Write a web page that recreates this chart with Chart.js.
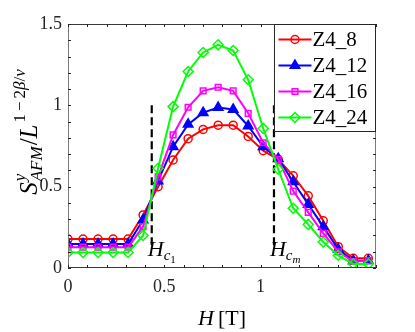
<!DOCTYPE html>
<html>
<head>
<meta charset="utf-8">
<script src="https://cdn.jsdelivr.net/npm/chart.js@4.4.1/dist/chart.umd.min.js"></script>
<style>
  html, body { margin: 0; padding: 0; background: #ffffff; }
  #wrap { width: 415px; height: 332px; position: relative; }
</style>
</head>
<body>
<div id="wrap"><canvas id="c" width="415" height="332"></canvas></div>
<script>
// ---------- data ----------
const H = [0, 0.078, 0.156, 0.234, 0.312, 0.39, 0.468, 0.546, 0.624, 0.702, 0.78,
           0.858, 0.936, 1.014, 1.092, 1.17, 1.248, 1.326, 1.404, 1.482, 1.56];
const seriesNames = ['Z4_8', 'Z4_12', 'Z4_16', 'Z4_24'];
const z4_8  = [0.178, 0.178, 0.178, 0.178, 0.178, 0.326, 0.50, 0.664, 0.795, 0.852, 0.878,
               0.878, 0.809, 0.721, 0.668, 0.567, 0.444, 0.29, 0.131, 0.06, 0.06];
const z4_12 = [0.148, 0.148, 0.148, 0.148, 0.148, 0.295, 0.535, 0.746, 0.883, 0.955, 0.986,
               0.975, 0.873, 0.746, 0.672, 0.53, 0.391, 0.254, 0.115, 0.045, 0.045];
const z4_16 = [0.128, 0.128, 0.128, 0.128, 0.128, 0.254, 0.56, 0.818, 0.988, 1.089, 1.111,
               1.089, 0.951, 0.77, 0.668, 0.473, 0.342, 0.213, 0.10, 0.04, 0.045];
const z4_24 = [0.095, 0.095, 0.095, 0.095, 0.095, 0.20, 0.613, 0.992, 1.208, 1.325, 1.372,
               1.337, 1.157, 0.858, 0.607, 0.367, 0.268, 0.16, 0.078, 0.025, 0.025];
const xTickValues = [0, 0.5, 1, 1.5];
const xTickLabels = ['0', '0.5', '1', '1.5'];
const yTickValues = [0, 0.5, 1, 1.5];
const yTickLabels = ['0', '0.5', '1', '1.5'];
const critFields = [0.435, 1.07];
const critLabels = ['1', 'm'];
const critLineSpan = [0.14, 1.0];

// ---------- styles ----------
const colors = ['#ff0000', '#0000ff', '#ff00ff', '#00ff00'];
const styles = ['circle', 'triangle', 'rect', 'rectRot'];
const radii = [4, 5.5, 4, 5];
const fills = ['rgba(0,0,0,0)', '#0000ff', 'rgba(0,0,0,0)', 'rgba(0,0,0,0)'];
const SERIF = '"Liberation Serif", "DejaVu Serif", serif';
const AX = '#262626';

const allSeries = [z4_8, z4_12, z4_16, z4_24];
const datasets = allSeries.map((s, k) => ({
  label: seriesNames[k],
  data: H.map((h, i) => ({ x: h, y: s[i] })),
  borderColor: colors[k],
  backgroundColor: fills[k],
  pointBorderColor: colors[k],
  pointBackgroundColor: fills[k],
  pointStyle: styles[k],
  pointRadius: radii[k],
  pointBorderWidth: 1.5,
  borderWidth: 2,
  order: 3 - k,
  tension: 0
}));

function near(v, arr) { return arr.findIndex(a => Math.abs(a - v) < 1e-6); }

// draw a sequence of text runs; each run {t, f (font), dy, sp}
function runs(ctx, list, x0, y0, measureOnly) {
  let x = x0;
  for (const r of list) {
    if (r.stack) {
      let w = 0;
      for (const s of r.stack) {
        ctx.font = s.f;
        const ww = ctx.measureText(s.t).width;
        if (!measureOnly) ctx.fillText(s.t, x, y0 + s.dy);
        w = Math.max(w, ww);
      }
      x += w + (r.sp || 0);
    } else {
      ctx.font = r.f;
      if (!measureOnly) ctx.fillText(r.t, x, y0 + (r.dy || 0));
      x += ctx.measureText(r.t).width + (r.sp || 0);
    }
  }
  return x - x0;
}

const decor = {
  id: 'decor',
  beforeDatasetsDraw(chart) {
    const { ctx, scales: { x, y } } = chart;
    ctx.save();
    ctx.strokeStyle = '#000000';
    ctx.lineWidth = 2.2;
    ctx.setLineDash([8, 4]);
    critFields.forEach(v => {
      const px = x.getPixelForValue(v);
      ctx.beginPath();
      ctx.moveTo(px, y.getPixelForValue(critLineSpan[1]));
      ctx.lineTo(px, y.getPixelForValue(critLineSpan[0]));
      ctx.stroke();
    });
    ctx.restore();
  },
  afterDraw(chart) {
    const { ctx, chartArea: a, scales: { x, y } } = chart;
    ctx.save();
    // H_c labels
    ctx.fillStyle = '#000';
    ctx.textBaseline = 'alphabetic';
    critFields.forEach((v, k) => {
      const px = x.getPixelForValue(v) - 4;
      const py = 256;
      ctx.font = 'italic 22px ' + SERIF;
      ctx.fillText('H', px, py);
      const w = ctx.measureText('H').width;
      ctx.font = 'italic 15px ' + SERIF;
      ctx.fillText('c', px + w, py + 4);
      const w2 = ctx.measureText('c').width;
      ctx.font = (k === 0 ? '' : 'italic ') + '11px ' + SERIF;
      ctx.fillText(critLabels[k], px + w + w2, py + 7);
    });

    // box
    ctx.lineWidth = 1;
    ctx.strokeStyle = '#7a7a7a';
    ctx.beginPath();
    ctx.moveTo(a.left + 0.5, a.top); ctx.lineTo(a.left + 0.5, a.bottom);
    ctx.moveTo(a.right - 0.5, a.top); ctx.lineTo(a.right - 0.5, a.bottom);
    ctx.stroke();
    ctx.strokeStyle = '#3a3a3a';
    ctx.beginPath();
    ctx.moveTo(a.left, a.top + 0.5); ctx.lineTo(a.right, a.top + 0.5);
    ctx.moveTo(a.left, a.bottom - 0.5); ctx.lineTo(a.right, a.bottom - 0.5);
    ctx.stroke();
    // inward ticks
    ctx.strokeStyle = AX;
    ctx.beginPath();
    for (let v = 0; v <= 1.6001; v += 0.1) {
      const px = Math.round(x.getPixelForValue(v)) + 0.5;
      ctx.moveTo(px, a.bottom); ctx.lineTo(px, a.bottom - 3);
      ctx.moveTo(px, a.top); ctx.lineTo(px, a.top + 3);
    }
    for (let v = 0; v <= 1.5001; v += 0.1) {
      const py = Math.round(y.getPixelForValue(v)) + 0.5;
      ctx.moveTo(a.left, py); ctx.lineTo(a.left + 3, py);
      ctx.moveTo(a.right, py); ctx.lineTo(a.right - 3, py);
    }
    ctx.stroke();

    // legend
    const lx = x.getPixelForValue(1.07) + 0.5, ly = a.top + 0.5;
    const lw = a.right - 0.5 - lx, lh = 107;
    ctx.fillStyle = '#ffffff';
    ctx.fillRect(lx, ly, lw, lh);
    ctx.strokeStyle = '#262626';
    ctx.lineWidth = 1;
    ctx.strokeRect(lx, ly, lw, lh);
    chart.data.datasets.forEach((ds, k) => {
      const cy = ly + 15 + k * 26;
      ctx.strokeStyle = ds.borderColor;
      ctx.lineWidth = 2;
      ctx.beginPath(); ctx.moveTo(lx + 4, cy); ctx.lineTo(lx + 37, cy); ctx.stroke();
      ctx.fillStyle = ds.pointBackgroundColor;
      ctx.strokeStyle = ds.borderColor;
      ctx.lineWidth = 1.5;
      Chart.helpers.drawPoint(ctx, {
        pointStyle: ds.pointStyle, radius: ds.pointRadius, borderWidth: 1.5, rotation: 0
      }, lx + 20.5, cy);
      ctx.fillStyle = '#000';
      ctx.font = '21px ' + SERIF;
      ctx.textBaseline = 'middle';
      ctx.fillText(ds.label, lx + 38, cy + 1);
    });

    // x title
    ctx.fillStyle = '#000';
    ctx.textBaseline = 'alphabetic';
    const xt = [
      { t: 'H', f: 'italic 22px ' + SERIF, sp: 4 },
      { t: '[T]', f: '22px ' + SERIF }
    ];
    const xw = runs(ctx, xt, 0, 0, true);
    runs(ctx, xt, (a.left + a.right) / 2 - xw / 2, 325, false);

    // y title (rotated)
    const mf = 'italic 25px ' + SERIF, mr = '25px ' + SERIF;
    const sf = 'italic 17px ' + SERIF, sr = '17px ' + SERIF;
    const yt = [
      { t: 'S', f: mf, sp: 1 },
      { stack: [{ t: 'y', f: sf, dy: -12 }, { t: 'AFM', f: sf, dy: 5 }], sp: 1 },
      { t: '/', f: mr, sp: 0 },
      { t: 'L', f: mf, sp: 2 },
      { t: '1', f: sr, dy: -12, sp: 3 },
      { t: '\u2212', f: sr, dy: -12, sp: 3 },
      { t: '2', f: sr, dy: -12 },
      { t: '\u03B2', f: sf, dy: -12 },
      { t: '/', f: sr, dy: -12 },
      { t: '\u03BD', f: sf, dy: -12 }
    ];
    ctx.translate(37, 132);
    ctx.rotate(-Math.PI / 2);
    const yw = runs(ctx, yt, 0, 0, true);
    runs(ctx, yt, -yw / 2, 0, false);
    ctx.restore();
  }
};

new Chart(document.getElementById('c'), {
  type: 'line',
  data: { datasets },
  plugins: [decor],
  options: {
    responsive: false,
    animation: false,
    events: [],
    layout: { padding: { left: 0, top: 24, right: 39, bottom: 0 } },
    plugins: { legend: { display: false }, tooltip: { enabled: false } },
    scales: {
      x: {
        type: 'linear', min: 0, max: 1.6,
        grid: { display: false, drawTicks: false },
        border: { display: false },
        afterFit(s) { s.height = 64; },
        ticks: {
          stepSize: 0.5, autoSkip: false, maxRotation: 0, padding: 8,
          color: '#262626', font: { family: SERIF, size: 18 },
          callback: v => { const i = near(v, xTickValues); return i >= 0 ? xTickLabels[i] : ''; }
        }
      },
      y: {
        type: 'linear', min: 0, max: 1.5,
        grid: { display: false, drawTicks: false },
        border: { display: false },
        afterFit(s) { s.width = 68; },
        ticks: {
          stepSize: 0.5, autoSkip: false, padding: 6,
          color: '#262626', font: { family: SERIF, size: 18 },
          callback: v => { const i = near(v, yTickValues); return i >= 0 ? yTickLabels[i] : ''; }
        }
      }
    }
  }
});
</script>
</body>
</html>
